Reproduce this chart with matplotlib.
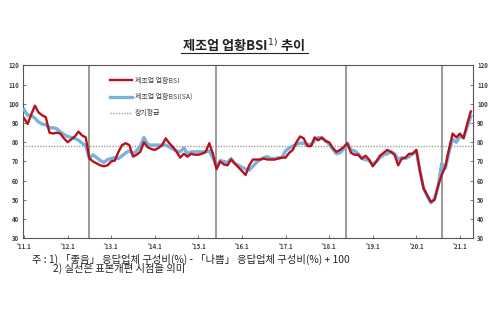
import matplotlib

matplotlib.use("Agg")
import matplotlib.pyplot as plt
from matplotlib.lines import Line2D

plt.rcParams["font.family"] = ["Noto Sans CJK KR", "DejaVu Sans"]
plt.rcParams["axes.unicode_minus"] = False

# 제조업 업황BSI (원계열), 2011.1 ~ 2021.4
bsi = [
    92.5, 89.5, 94.5, 99, 95.5, 94, 93, 85, 84.5, 85, 84.5, 82,
    80, 81.5, 83, 85.5, 83.5, 82.5, 71.5, 70, 69, 68, 67.5, 68,
    70, 70.5, 75, 78.5, 79.5, 78.5, 72.5, 73.5, 75, 80, 77.5, 76.5,
    76, 77, 78.5, 82, 79.5, 77.5, 75, 72, 74, 72.5, 74, 73.5,
    73.5, 74, 75, 79.5, 74, 66, 70, 68.5, 68, 71, 69, 67,
    65, 63, 68, 71, 71, 71, 71.5, 71, 71, 71, 71.5, 72,
    72, 74.5, 76, 80, 83, 82, 78, 78, 82.5, 81, 82.5, 80.5,
    80, 77, 75, 76, 77.5, 79.5, 74.5, 73.5, 73.5, 71.5, 73, 71,
    67.5, 70, 73, 74.5, 76, 75, 73.5, 68, 71.5, 72, 74, 74,
    76, 65, 56, 52.5, 49, 50, 57.5, 63, 67.5, 76.5, 84.5, 82.5,
    84.5, 82, 89.5, 96,
]
# 제조업 업황BSI (계절조정)
bsi_sa = [
    97, 94, 94, 92.5, 90.5, 89.5, 89, 87.5, 87.5, 87, 85.5, 84,
    83, 82.5, 82, 81, 79.5, 78, 71.5, 73.5, 72, 70.5, 69.5, 71,
    71.5, 72, 71.5, 73, 74.5, 75.5, 74, 75.5, 78, 82.5, 79, 78.5,
    78.5, 78.5, 78.5, 78.5, 77.5, 76.5, 75.5, 75, 77, 74, 75, 75,
    75, 75, 75, 75.5, 72, 67, 70.5, 70, 69.5, 71.5, 69, 68,
    67, 66, 65.5, 67.5, 69.5, 71, 72, 72.5, 71.5, 71.5, 72, 72,
    75.5, 77, 78, 79, 79.5, 79.5, 79, 78.5, 81, 82.5, 82, 81,
    79, 76.5, 74, 74.5, 76.5, 79.5, 76, 75.5, 74, 71.5, 71, 70.5,
    68.5, 70, 72, 73.5, 74, 75, 74, 71, 72, 71.5, 72.5, 74,
    75.5, 65, 56, 52, 48.5, 50.5, 57, 69, 66.5, 75, 81.5, 80,
    83, 82.5, 88, 93.5,
]
long_avg = 78
# 표본개편 시점 (월 인덱스, 2011.1 = 0)
resample_idx = [17.9, 52.8, 88.55, 115.0]
year_labels = ["'11.1", "'12.1", "'13.1", "'14.1", "'15.1", "'16.1",
               "'17.1", "'18.1", "'19.1", "'20.1", "'21.1"]

months = list(range(len(bsi)))

fig = plt.figure(figsize=(5, 3.33), dpi=100)
ax = fig.add_axes([0.046, 0.284, 0.9, 0.52])

ax.axhline(long_avg, color="#a0a0a0", linestyle=(0, (1, 1)), linewidth=1.0,
           zorder=1)
for v in resample_idx:
    ax.axvline(v, color="#7f7f7f", linewidth=1.1, zorder=2)

ax.plot(months, bsi_sa, color="#7ab2dc", linewidth=2.4, zorder=3,
        solid_joinstyle="round")
ax.plot(months, bsi, color="#b5121b", linewidth=1.7, zorder=4,
        solid_joinstyle="round")

ax.set_xlim(-0.28, 123.6)
ax.set_ylim(30, 120)
ax.set_yticks(range(30, 121, 10))
ax.set_xticks(range(0, 121, 12))
ax.set_xticklabels(year_labels)
ax.tick_params(axis="both", labelsize=4.3, length=2, width=0.5,
               direction="in", colors="#404040", pad=3)
ax.tick_params(axis="y", right=True, labelright=True)
for lab in ax.get_xticklabels() + ax.get_yticklabels():
    lab.set_fontweight("bold")
for s in ax.spines.values():
    s.set_color("#555555")
    s.set_linewidth(0.8)

handles = [
    Line2D([], [], color="#b5121b", linewidth=1.7),
    Line2D([], [], color="#7ab2dc", linewidth=2.4),
    Line2D([], [], color="#a0a0a0", linestyle=(0, (1, 1)), linewidth=1.0),
]
ax.legend(handles, ["제조업 업황BSI", "제조업 업황BSI(SA)", "장기평균"],
          loc="upper left", bbox_to_anchor=(0.18, 0.97), frameon=False,
          fontsize=5, handlelength=3.2, handletextpad=0.3, labelspacing=1.2,
          labelcolor="#404040")

fig.text(0.488, 0.865, "제조업 업황BSI$^{1)}$ 추이", ha="center", va="center",
         fontsize=9.5, fontweight="bold", color="#222222")
fig.add_artist(Line2D([0.362, 0.616], [0.842, 0.842], color="#222222",
                      linewidth=0.8, transform=fig.transFigure))

fig.text(0.064, 0.222,
         "주 : 1) 「좋음」 응답업체 구성비(%) - 「나쁨」 응답업체 구성비(%) + 100",
         fontsize=7.4, va="center", color="#222222")
fig.text(0.106, 0.193, "2) 실선은 표본개편 시점을 의미",
         fontsize=7.4, va="center", color="#222222")

fig.savefig("out.png", dpi=100)
